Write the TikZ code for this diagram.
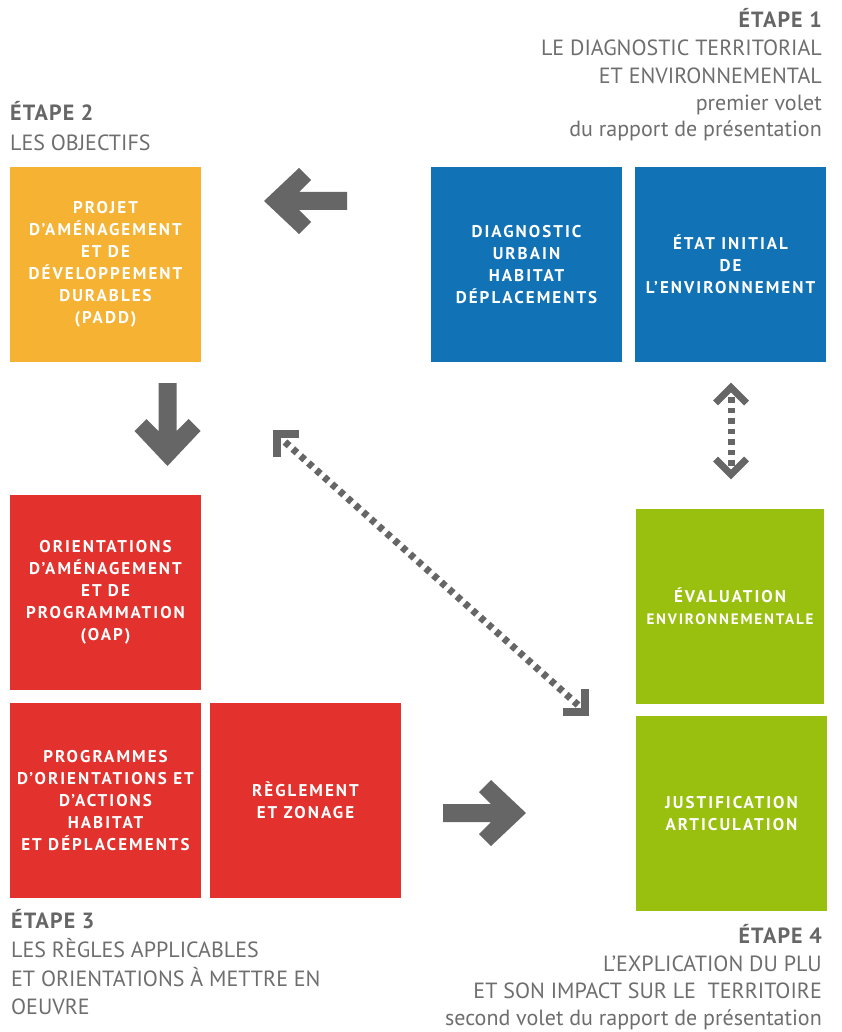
\documentclass[tikz,border=0pt]{standalone}
\usepackage{fontspec}
\setmainfont{PT Sans}
\newfontfamily\boitefont[LetterSpace=12]{PT Sans}
\newfontfamily\etapefont[LetterSpace=5]{PT Sans}
\definecolor{padd}{HTML}{F5B233}
\definecolor{bleu}{HTML}{1272B6}
\definecolor{rouge}{HTML}{E3322D}
\definecolor{vert}{HTML}{99BF0F}
\definecolor{flec}{HTML}{666666}
\definecolor{txt}{HTML}{6E6E6E}
\definecolor{txtb}{HTML}{666666}
\tikzset{
  boite/.style={minimum width=191pt, minimum height=195pt, inner sep=0pt, outer sep=0pt,
    text=white, align=center, font=\fontsize{17}{22}\selectfont\boitefont\bfseries},
  capline/.style={inner sep=0pt, text=txt, font=\fontsize{22}{26}\selectfont},
  lowline/.style={inner sep=0pt, text=txt, font=\fontsize{22}{26}\selectfont},
  etape/.style={inner sep=0pt, text=txtb, font=\fontsize{22}{26}\selectfont\etapefont\bfseries},
  grosfleche/.pic={\fill[flec] (0,0) -- (-35,-33) -- (-47,-21) -- (-35,-9) -- (-83,-9)
      -- (-83,9) -- (-35,9) -- (-47,21) -- (-35,33) -- cycle;},
  pointille/.style={draw=flec, line width=7pt, dash pattern=on 5.5pt off 5pt},
  chevron/.style={draw=flec, line width=7pt, miter limit=10, line join=miter, line cap=butt}
}
\begin{document}
\begin{tikzpicture}[x=1pt, y=-1pt]
\useasboundingbox (0,0) rectangle (842,1032);
\fill[white] (0,0) rectangle (842,1032);

% boxes
\node[boite, fill=padd] (padd) at (105.5,264.5) {PROJET\\D’AMÉNAGEMENT\\ET DE\\DÉVELOPPEMENT\\DURABLES\\(PADD)};
\node[boite, fill=bleu] (diag) at (526.5,264.5) {DIAGNOSTIC\\URBAIN\\HABITAT\\DÉPLACEMENTS};
\node[boite, fill=bleu] (etat) at (730.5,264.5) {ÉTAT INITIAL\\DE\\L’ENVIRONNEMENT};
\node[boite, fill=rouge] (oap) at (105.5,592.5) {ORIENTATIONS\\D’AMÉNAGEMENT\\ET DE\\PROGRAMMATION\\(OAP)};
\node[boite, fill=rouge] (poa) at (105.5,800.5) {PROGRAMMES\\D’ORIENTATIONS ET\\D’ACTIONS\\HABITAT\\ET DÉPLACEMENTS};
\node[boite, fill=rouge] (regl) at (305.5,800.5) {RÈGLEMENT\\ET ZONAGE};
\node[boite, fill=vert, minimum width=188pt] (eval) at (730,606.5) {ÉVALUATION\\\resizebox{167pt}{!}{ENVIRONNEMENTALE}};
\node[boite, fill=vert] (justif) at (731.5,813.5) {JUSTIFICATION\\ARTICULATION};

% big arrows
\coordinate (tipG) at (264,201);
\coordinate (tipB) at (167.5,466);
\coordinate (tipD) at (526,813);
\pic[rotate=180] at (tipG) {grosfleche};
\pic[rotate=-90] at (tipB) {grosfleche};
\pic at (tipD) {grosfleche};

% vertical dotted double arrow
\coordinate (vh) at (731,397);
\coordinate (vb) at (731,466);
\draw[pointille] (vh) -- (vb);
\draw[chevron] (715.5,403) -- (731,387.5) -- (746.5,403);
\draw[chevron] (715.5,459) -- (731,474.5) -- (746.5,459);

% diagonal dotted double arrow
\coordinate (dh) at (285,442);
\coordinate (db) at (578,705);
\draw[pointille] (dh) -- (db);
\draw[chevron, line width=8pt] (299,434) -- (277,434) -- (277,457);
\draw[chevron, line width=8pt] (563,712) -- (585,712) -- (585,689);

% ETAPE 1
\node[etape, anchor=base east] (e1a) at (822,28) {ÉTAPE 1};
\node[capline, anchor=base east] (e1b) at (822,56) {LE DIAGNOSTIC TERRITORIAL};
\node[capline, anchor=base east] (e1c) at (822,84) {ET ENVIRONNEMENTAL};
\node[lowline, anchor=base east] (e1d) at (822,111) {premier volet};
\node[lowline, anchor=base east] (e1e) at (822,137) {du rapport de présentation};

% ETAPE 2
\node[etape, anchor=base west] (e2a) at (10,121) {ÉTAPE 2};
\node[capline, anchor=base west] (e2b) at (10,151) {LES OBJECTIFS};

% ETAPE 3
\node[etape, anchor=base west] (e3a) at (11,928) {ÉTAPE 3};
\node[capline, anchor=base west] (e3b) at (11,957) {LES RÈGLES APPLICABLES};
\node[capline, anchor=base west] (e3c) at (11,986) {ET ORIENTATIONS À METTRE EN};
\node[capline, anchor=base west] (e3d) at (11,1014) {OEUVRE};

% ETAPE 4
\node[etape, anchor=base east] (e4a) at (822,943) {ÉTAPE 4};
\node[capline, anchor=base east] (e4b) at (822,971) {L’EXPLICATION DU PLU};
\node[capline, anchor=base east] (e4c) at (822,998) {ET SON IMPACT SUR LE \ TERRITOIRE};
\node[lowline, anchor=base east] (e4d) at (822,1025) {second volet du rapport de présentation};
\end{tikzpicture}
\end{document}
